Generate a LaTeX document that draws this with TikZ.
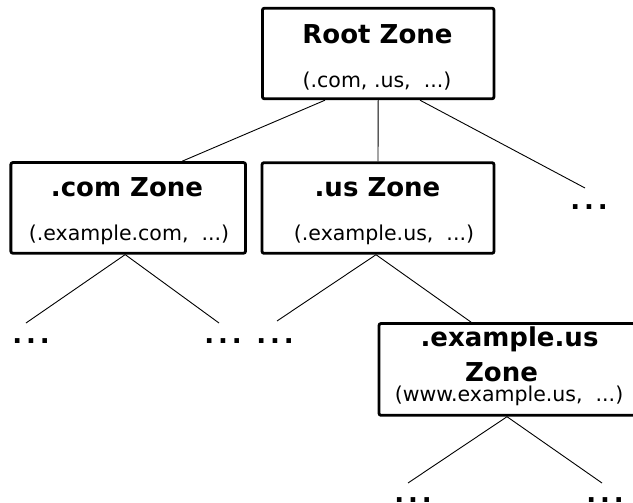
\documentclass[tikz,border=0pt]{standalone}
\usepackage{fontspec}
\setmainfont{DejaVu Sans}
\newcommand\moredots{.\kern3.9pt.\kern3.9pt.}
\begin{document}
\begin{tikzpicture}[x=1pt,y=-1pt,
  zone/.style={draw, line width=2.8pt, rounded corners=2pt, minimum height=90.6pt, inner sep=0pt},
  title/.style={anchor=base, inner sep=0pt, font=\fontsize{26}{30}\selectfont\bfseries},
  sub/.style={anchor=base, inner sep=0pt, font=\fontsize{20.5}{24}\selectfont},
  more/.style={anchor=base, inner sep=0pt, font=\fontsize{26}{30}\selectfont\bfseries},
  link/.style={line width=0.9pt}]
\useasboundingbox (0,0) rectangle (633,503);
\clip (0,0) rectangle (633,503);

% zone boxes
\node[zone, minimum width=231.5pt] (root) at (378.2,53.5) {};
\node[zone, minimum width=234.7pt] (com) at (128.2,207.9) {};
\node[zone, minimum width=232pt] (us) at (378,208) {};
\node[zone, minimum width=256pt, minimum height=91.8pt] (ex) at (507,369.4) {};

% zone titles and contents
\node[title] (rootT) at (377.5,43.3) {Root Zone};
\node[sub] (rootS) at (377,87.3) {(.com, .us,\ \ ...)};
\node[title] (comT) at (127,196.7) {.com Zone};
\node[sub] (comS) at (129,240.7) {(.example.com,\ \ ...)};
\node[title] (usT) at (377.5,196.7) {.us Zone};
\node[sub] (usS) at (384,240.7) {(.example.us,\ \ ...)};
\node[title] (exT) at (509.5,346.7) {.example.us};
\node[title] (exT2) at (501.5,381) {Zone};
\node[sub] (exS) at (509,401) {(www.example.us,\ \ ...)};

% elided subtrees
\node[more] (dr) at (589,210) {\moredots};
\node[more] (dl1) at (31,343) {\moredots};
\node[more] (dl2) at (223,343) {\moredots};
\node[more] (dl3) at (275,343) {\moredots};
\node[more] (db1) at (413,502.5) {\moredots};
\node[more] (db2) at (605,502.5) {\moredots};

% delegation links
\draw[link] ([xshift=-53.2pt]root.south) -- ([xshift=54pt]com.north);
\draw[link] (root.south) -- (us.north);
\draw[link] ([xshift=41.8pt]root.south) -- ([xshift=-4pt,yshift=22pt]dr.base);
\draw[link] ([xshift=-3pt]com.south) -- ([xshift=-5pt,yshift=20pt]dl1.base);
\draw[link] ([xshift=-3pt]com.south) -- ([xshift=-4pt,yshift=20pt]dl2.base);
\draw[link] ([xshift=-2pt]us.south) -- ([xshift=2pt,yshift=22pt]dl3.base);
\draw[link] ([xshift=-2pt]us.south) -- ([xshift=-36pt]ex.north);
\draw[link] (ex.south) -- ([xshift=-5pt,yshift=19.5pt]db1.base);
\draw[link] (ex.south) -- ([xshift=-3pt,yshift=19.5pt]db2.base);
\end{tikzpicture}
\end{document}
